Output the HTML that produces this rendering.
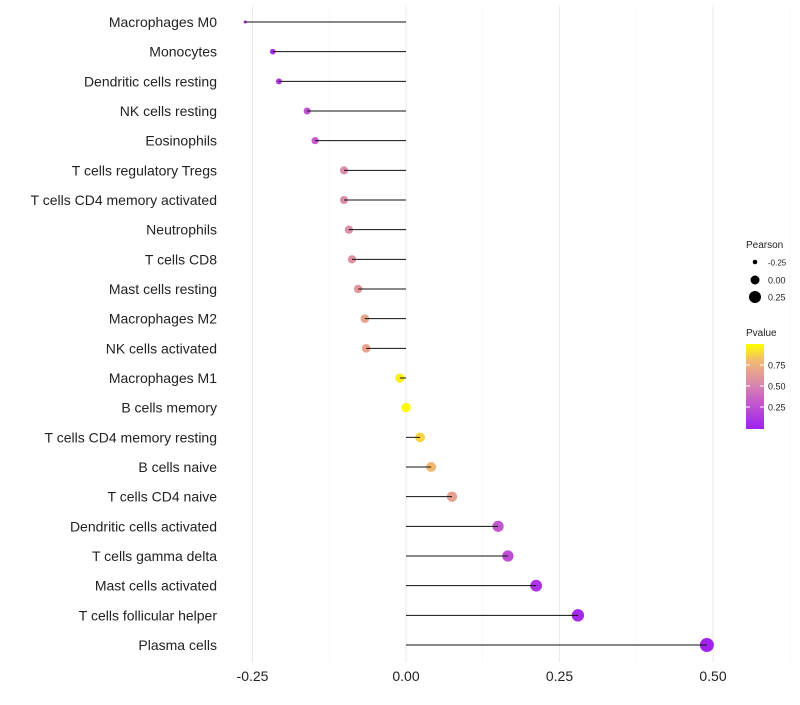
<!DOCTYPE html>
<html><head><meta charset="utf-8"><style>
body{margin:0;background:#fff;font-family:"Liberation Sans",sans-serif}
</style></head><body>
<svg id="c" width="800" height="700" xmlns="http://www.w3.org/2000/svg">
<defs><linearGradient id="g" x1="0" y1="1" x2="0" y2="0">
<stop offset="0" stop-color="#a020f0"/><stop offset="0.35" stop-color="#c860c8"/><stop offset="0.55" stop-color="#dc8ca8"/><stop offset="0.8" stop-color="#f2b872"/><stop offset="1" stop-color="#ffff00"/></linearGradient></defs>
</svg>
<script>
const categories=["Macrophages M0","Monocytes","Dendritic cells resting","NK cells resting","Eosinophils","T cells regulatory  Tregs","T cells CD4 memory activated","Neutrophils","T cells CD8","Mast cells resting","Macrophages M2","NK cells activated","Macrophages M1","B cells memory","T cells CD4 memory resting","B cells naive","T cells CD4 naive","Dendritic cells activated","T cells gamma delta","Mast cells activated","T cells follicular helper","Plasma cells"];
const pearson=[-0.262,-0.217,-0.207,-0.161,-0.148,-0.101,-0.101,-0.093,-0.088,-0.078,-0.067,-0.065,-0.010,0.0,0.023,0.041,0.075,0.150,0.166,0.212,0.280,0.490];
const pvalue=[0.02,0.08,0.12,0.28,0.32,0.55,0.55,0.57,0.58,0.62,0.68,0.68,0.95,0.99,0.88,0.8,0.66,0.3,0.25,0.1,0.05,0.01];
const xTicks=[-0.25,0,0.25,0.5];
const xTickLabels=["-0.25","0.00","0.25","0.50"];
const NS="http://www.w3.org/2000/svg",svg=document.getElementById('c');
const x=v=>406+v*614, y=i=>22+i*29.667;
const r=v=>1.5+5.5*Math.sqrt(Math.max(0,(v+0.262)/0.752));
function col(p){const st=[[0,[160,32,240]],[0.35,[200,96,200]],[0.55,[220,140,168]],[0.8,[242,184,114]],[1,[255,255,0]]];
for(let k=1;k<st.length;k++){if(p<=st[k][0]){const a=st[k-1],b=st[k],t=(p-a[0])/(b[0]-a[0]);return 'rgb('+a[1].map((c,j)=>Math.round(c+(b[1][j]-c)*t)).join(',')+')';}}return 'rgb(255,255,0)';}
function el(t,a,p){const e=document.createElementNS(NS,t);for(const k in a)e.setAttribute(k,a[k]);(p||svg).appendChild(e);return e;}
for(let i=0;i<xTicks.length;i++){const g=el('line',{x1:x(xTicks[i]),x2:x(xTicks[i]),y1:5,y2:662,stroke:'#ebebeb','stroke-width':1});


const m=el('line',{x1:x(xTicks[i]+0.125),x2:x(xTicks[i]+0.125),y1:5,y2:662,stroke:'#f5f5f5','stroke-width':0.6});


const t=el('text',{x:x(xTicks[i]),y:681,'text-anchor':'middle','font-size':14,fill:'#222'});t.textContent=xTickLabels[i];

}
for(let i=0;i<categories.length;i++){
const l=el('text',{x:217,y:y(i)+5,'text-anchor':'end','font-size':14,fill:'#222'});l.textContent=categories[i];


const c=el('circle',{cx:x(pearson[i]),cy:y(i),r:r(pearson[i]),fill:col(pvalue[i])});


const s=el('line',{x1:x(0),x2:x(pearson[i]),y1:y(i),y2:y(i),stroke:'#111','stroke-width':1});


}
const lg=el('g',{});


let t=el('text',{x:746,y:248,'font-size':10,fill:'#222'},lg);t.textContent='Pearson';
[[-0.25,262,2.3],[0,280,4.5],[0.25,297,6]].forEach(d=>{el('circle',{cx:755,cy:d[1],r:d[2],fill:'#000'},lg);
const tt=el('text',{x:768,y:d[1]+3.5,'font-size':d[0]<0?8:9,fill:'#222'},lg);tt.textContent=d[0]<0?'-0.25':d[0].toFixed(2);});
t=el('text',{x:746,y:336,'font-size':10,fill:'#222'},lg);t.textContent='Pvalue';
el('rect',{x:746,y:344,width:18,height:85,fill:'url(#g)'},lg);
[[0.75,365],[0.5,386],[0.25,407]].forEach(d=>{el('line',{x1:746,x2:750,y1:d[1],y2:d[1],stroke:'#fff'},lg);el('line',{x1:760,x2:764,y1:d[1],y2:d[1],stroke:'#fff'},lg);
const tt=el('text',{x:768,y:d[1]+3.5,'font-size':9,fill:'#222'},lg);tt.textContent=d[0].toFixed(2);});
</script>
</body></html>
